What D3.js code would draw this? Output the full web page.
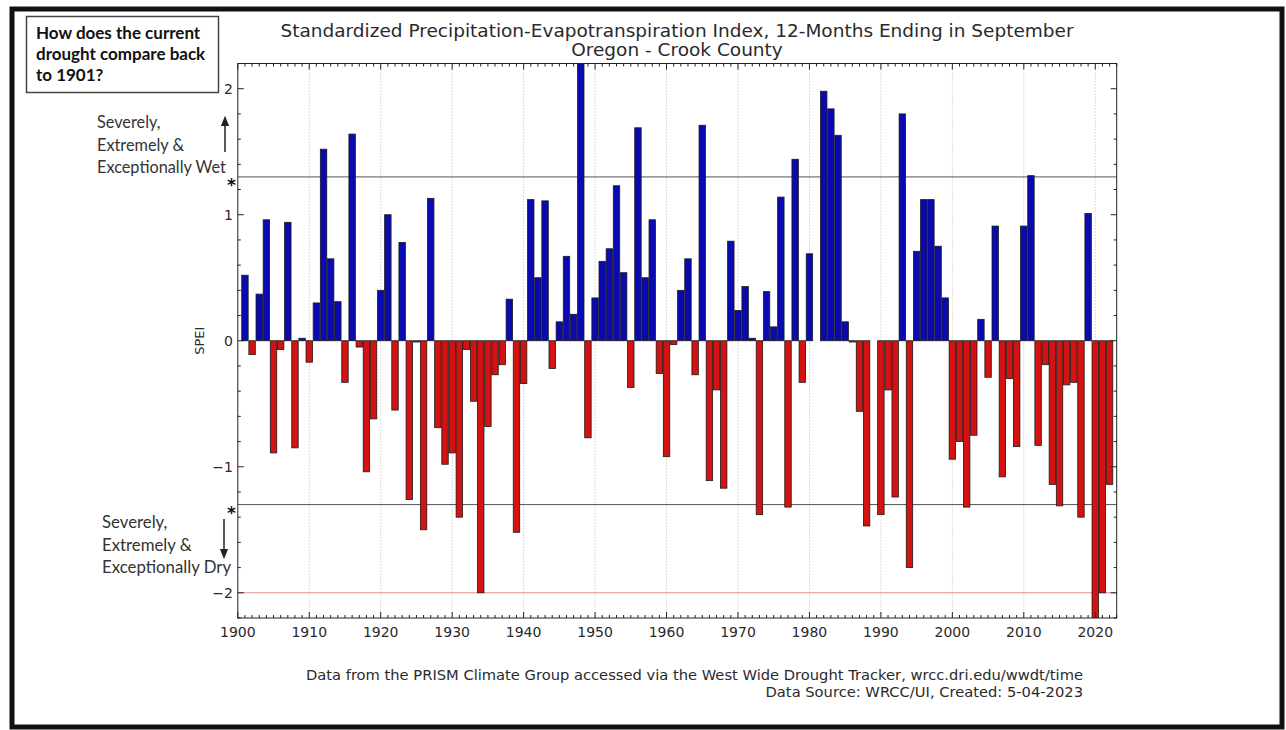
<!DOCTYPE html>
<html>
<head>
<meta charset="utf-8">
<script src="https://cdn.jsdelivr.net/npm/d3@7/dist/d3.min.js"></script>
<style>
  html, body { margin: 0; padding: 0; background: #fff; }
  svg { display: block; }
  .mpl { font-family: "DejaVu Sans", sans-serif; fill: #2a2a2a; }
  .note { font-family: Lato, "Open Sans", sans-serif; fill: #333; }
</style>
</head>
<body>
<svg id="chart" width="1286" height="730"></svg>
<script>
// SPEI, 12 months ending in September, Crook County, Oregon (1901-2022)
const years = d3.range(1901, 2023);
const spei = [
  0.52, -0.11, 0.37, 0.96, -0.89, -0.07, 0.94, -0.85, 0.02, -0.17,   // 1901-1910
  0.30, 1.52, 0.65, 0.31, -0.33, 1.64, -0.05, -1.04, -0.62, 0.40,    // 1911-1920
  1.00, -0.55, 0.78, -1.26, -0.01, -1.50, 1.13, -0.69, -0.98, -0.89, // 1921-1930
  -1.40, -0.07, -0.48, -2.00, -0.68, -0.27, -0.19, 0.33, -1.52, -0.34, // 1931-1940
  1.12, 0.50, 1.11, -0.22, 0.15, 0.67, 0.21, 2.20, -0.77, 0.34,      // 1941-1950
  0.63, 0.73, 1.23, 0.54, -0.37, 1.69, 0.50, 0.96, -0.26, -0.92,     // 1951-1960
  -0.03, 0.40, 0.65, -0.27, 1.71, -1.11, -0.39, -1.17, 0.79, 0.24,   // 1961-1970
  0.43, 0.02, -1.38, 0.39, 0.11, 1.14, -1.32, 1.44, -0.33, 0.69,     // 1971-1980
  0.00, 1.98, 1.84, 1.63, 0.15, -0.01, -0.56, -1.47, 0.00, -1.38,    // 1981-1990
  -0.39, -1.24, 1.80, -1.80, 0.71, 1.12, 1.12, 0.75, 0.34, -0.94,    // 1991-2000
  -0.80, -1.32, -0.75, 0.17, -0.29, 0.91, -1.08, -0.30, -0.84, 0.91, // 2001-2010
  1.31, -0.83, -0.19, -1.14, -1.31, -0.35, -0.33, -1.40, 1.01, -2.20, // 2011-2020
  -2.00, -1.14                                                       // 2021-2022
];
const yTicks = [-2, -1, 0, 1, 2];
const xTicks = d3.range(1900, 2021, 10);
const thresholds = [1.3, -1.3];
const extremeLine = -2;

const titleLines = [
  "Standardized Precipitation-Evapotranspiration Index, 12-Months Ending in September",
  "Oregon - Crook County"
];
const footerLines = [
  "Data from the PRISM Climate Group accessed via the West Wide Drought Tracker, wrcc.dri.edu/wwdt/time",
  "Data Source: WRCC/UI, Created: 5-04-2023"
];
const questionLines = ["How does the current", "drought compare back", "to 1901?"];
const wetLines = ["Severely,", "Extremely &", "Exceptionally Wet"];
const dryLines = ["Severely,", "Extremely &", "Exceptionally Dry"];

const data = years.map((y, i) => ({ year: y, value: spei[i] }));

const svg = d3.select("#chart");
const plot = { left: 237.8, right: 1116.7, top: 63.5, bottom: 618 };

const x = d3.scaleLinear().domain([1900, 2023]).range([plot.left, plot.right]);
const y = d3.scaleLinear().domain([-2.2, 2.2]).range([plot.bottom, plot.top]);

// outer frame
svg.append("rect").attr("x", 12).attr("y", 9).attr("width", 1270).attr("height", 718)
  .attr("fill", "none").attr("stroke", "#111").attr("stroke-width", 5);

svg.append("defs").append("clipPath").attr("id", "plotclip")
  .append("rect").attr("x", plot.left).attr("y", plot.top)
  .attr("width", plot.right - plot.left).attr("height", plot.bottom - plot.top);

// decade grid (dotted)
svg.append("g").selectAll("line").data(xTicks.filter(d => d > 1900)).join("line")
  .attr("x1", d => x(d)).attr("x2", d => x(d))
  .attr("y1", plot.top).attr("y2", plot.bottom)
  .attr("stroke", "#b8b8b8").attr("stroke-width", 1).attr("stroke-dasharray", "1,2");

// threshold lines
svg.append("g").selectAll("line").data(thresholds).join("line")
  .attr("x1", plot.left).attr("x2", plot.right)
  .attr("y1", d => y(d)).attr("y2", d => y(d))
  .attr("stroke", "#555").attr("stroke-width", 1);
svg.append("line")
  .attr("x1", plot.left).attr("x2", plot.right)
  .attr("y1", y(extremeLine)).attr("y2", y(extremeLine))
  .attr("stroke", "#e68a8a").attr("stroke-width", 1);

// bars
const barW = 0.9;
svg.append("g").attr("clip-path", "url(#plotclip)")
  .selectAll("rect").data(data).join("rect")
  .attr("x", d => x(d.year - barW / 2))
  .attr("width", x(barW) - x(0))
  .attr("y", d => y(Math.max(0, d.value)))
  .attr("height", d => Math.abs(y(d.value) - y(0)))
  .attr("fill", d => d.value >= 0 ? "#0a0ab0" : "#d41212")
  .attr("stroke", "#1a1a1a").attr("stroke-width", 0.8);

// axes frame
const axisColor = "#222";
svg.append("rect").attr("x", plot.left).attr("y", plot.top)
  .attr("width", plot.right - plot.left).attr("height", plot.bottom - plot.top)
  .attr("fill", "none").attr("stroke", axisColor).attr("stroke-width", 1);

// inward ticks: left/right (major + minor), top/bottom (decade + yearly)
const gT = svg.append("g").attr("stroke", axisColor).attr("stroke-width", 1);
const yMinor = d3.range(-2.2, 2.21, 0.2).map(v => +v.toFixed(1));
yMinor.forEach(v => {
  const len = yTicks.includes(v) ? 6 : 3;
  gT.append("line").attr("x1", plot.left).attr("x2", plot.left + len).attr("y1", y(v)).attr("y2", y(v));
  gT.append("line").attr("x1", plot.right).attr("x2", plot.right - len).attr("y1", y(v)).attr("y2", y(v));
});
d3.range(1900, 2024).forEach(v => {
  const len = v % 10 === 0 ? 6 : 3;
  gT.append("line").attr("x1", x(v)).attr("x2", x(v)).attr("y1", plot.bottom).attr("y2", plot.bottom - len);
  gT.append("line").attr("x1", x(v)).attr("x2", x(v)).attr("y1", plot.top).attr("y2", plot.top + len);
});

// tick labels
svg.append("g").selectAll("text").data(yTicks).join("text")
  .attr("class", "mpl").attr("font-size", 14)
  .attr("x", plot.left - 5).attr("y", d => y(d) + 5)
  .attr("text-anchor", "end")
  .text(d => d < 0 ? "\u2212" + Math.abs(d) : String(d));
svg.append("g").selectAll("text").data(xTicks).join("text")
  .attr("class", "mpl").attr("font-size", 14)
  .attr("x", d => x(d)).attr("y", plot.bottom + 19)
  .attr("text-anchor", "middle")
  .text(d => d);

svg.append("text").attr("class", "mpl").attr("font-size", 13)
  .attr("transform", `translate(204,${y(0)}) rotate(-90)`)
  .attr("text-anchor", "middle").text("SPEI");

// title
svg.append("g").selectAll("text").data(titleLines).join("text")
  .attr("class", "mpl").attr("font-size", 18.5)
  .attr("x", 677).attr("y", (d, i) => 37 + i * 19)
  .attr("text-anchor", "middle").text(d => d);

// footer
svg.append("g").selectAll("text").data(footerLines).join("text")
  .attr("class", "mpl").attr("font-size", 14.7)
  .attr("x", 1083).attr("y", (d, i) => 680 + i * 17)
  .attr("text-anchor", "end").text(d => d);

// question box
svg.append("rect").attr("x", 26.5).attr("y", 16.5).attr("width", 192).attr("height", 76)
  .attr("fill", "#fff").attr("stroke", "#444").attr("stroke-width", 1.5);
svg.append("g").selectAll("text").data(questionLines).join("text")
  .attr("class", "note").attr("font-size", 17).attr("font-weight", "bold")
  .attr("x", 36).attr("y", (d, i) => 39 + i * 21)
  .style("fill", "#111").text(d => d);

// wet / dry annotations
svg.append("g").selectAll("text").data(wetLines).join("text")
  .attr("class", "note").attr("font-size", 16.3)
  .attr("x", 97).attr("y", (d, i) => 128 + i * 22.5).text(d => d);
svg.append("g").selectAll("text").data(dryLines).join("text")
  .attr("class", "note").attr("font-size", 16.8)
  .attr("x", 102).attr("y", (d, i) => 528 + i * 22.5).text(d => d);

const defs = svg.select("defs");
defs.append("marker").attr("id", "ah").attr("viewBox", "0 0 10 10")
  .attr("refX", 5).attr("refY", 5).attr("markerWidth", 7).attr("markerHeight", 7)
  .attr("orient", "auto-start-reverse")
  .append("path").attr("d", "M0,1 L10,5 L0,9 z").attr("fill", "#222");

svg.append("line").attr("x1", 225).attr("x2", 225).attr("y1", 152).attr("y2", 121)
  .attr("stroke", "#222").attr("stroke-width", 1.5).attr("marker-end", "url(#ah)");
svg.append("line").attr("x1", 224).attr("x2", 224).attr("y1", 519).attr("y2", 554)
  .attr("stroke", "#222").attr("stroke-width", 1.5).attr("marker-end", "url(#ah)");

// asterisks marking the severe thresholds
svg.append("g").selectAll("text").data(thresholds).join("text")
  .attr("class", "mpl").attr("font-size", 17).attr("font-weight", "bold")
  .attr("x", 231.5).attr("y", d => y(d) + 14)
  .attr("text-anchor", "middle").style("fill", "#111").text("*");
</script>
</body>
</html>
